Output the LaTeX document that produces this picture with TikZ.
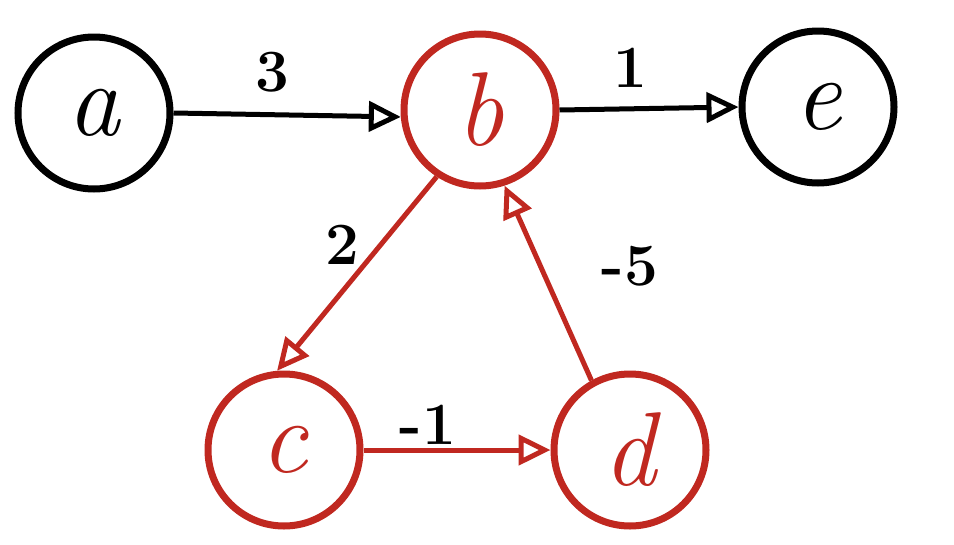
\documentclass[tikz,border=0pt]{standalone}
\usetikzlibrary{arrows.meta}
\definecolor{hred}{RGB}{192,40,32}
\begin{document}
\begin{tikzpicture}[x=1pt,y=-1pt,
  vert/.style={circle,draw,line width=7pt,minimum size=152pt,inner sep=0pt,font=\fontsize{105}{105}\selectfont\itshape},
  redvert/.style={vert,draw=hred,text=hred},
  edge/.style={line width=5pt,-{Triangle[open,length=32pt,width=30pt,line width=5pt]}},
  rededge/.style={edge,draw=hred},
  wlabel/.style={font=\fontsize{60}{60}\selectfont\bfseries}]
\useasboundingbox (0,0) rectangle (954,544);
\node[vert] (a) at (94,113) {a};
\node[redvert] (b) at (480,110) {b};
\node[vert] (e) at (818,107) {e};
\node[redvert] (c) at (284,450) {c};
\node[redvert] (d) at (630,450) {d};
\draw[edge] (a.east) -- (b.185);
\draw[edge] (b.east) -- (e.west);
\draw[rededge] (b.237) -- (c.95);
\draw[rededge] (d.119) -- (b.288);
\draw[rededge] (c.east) -- (d.west);
\node[wlabel] (l3) at (272,72) {3};
\node[wlabel] (l1) at (630,68) {1};
\node[wlabel] (l2) at (342,245) {2};
\node[wlabel] (l5) at (630,266) {-5};
\node[wlabel] (l6) at (428,425) {-1};
\end{tikzpicture}
\end{document}
